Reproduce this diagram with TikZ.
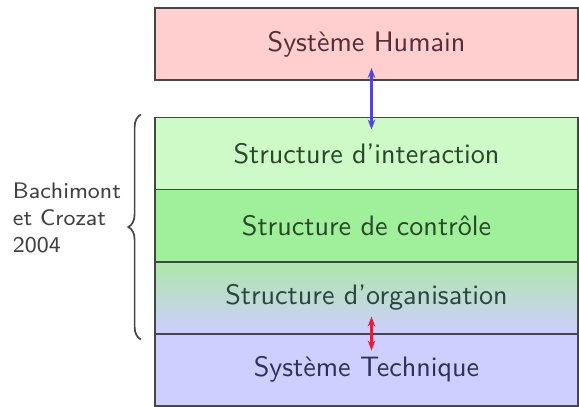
\documentclass[tikz,border=0pt]{standalone}
\usepackage{tikz}
\usetikzlibrary{calc,arrows.meta,positioning,decorations.pathreplacing}
\definecolor{humainRed}{RGB}{255,206,206}
\definecolor{interGreen}{RGB}{206,250,200}
\definecolor{controleGreen}{RGB}{160,240,155}
\definecolor{orgaGreen}{RGB}{172,232,168}
\definecolor{techBlue}{RGB}{206,206,255}
\definecolor{arrowBlue}{RGB}{80,70,215}
\definecolor{arrowRed}{RGB}{228,30,60}
\definecolor{framegray}{RGB}{70,70,70}
\definecolor{humainText}{RGB}{85,45,55}
\definecolor{greenText}{RGB}{40,72,40}
\definecolor{orgaText}{RGB}{40,70,62}
\definecolor{techText}{RGB}{48,48,85}

\begin{document}
\begin{tikzpicture}[x=0.0125cm, y=-0.0125cm, font=\sffamily,
    layer/.style={draw=framegray, line width=0.7pt, minimum width=5.2875cm,
        minimum height=0.9cm, inner sep=0pt, outer sep=0pt}]
    \useasboundingbox (0,0) rectangle (579,407);

    % human side
    \node[layer, fill=humainRed, text=humainText] (humain) at (366.5,44) {Système Humain};

    % the three structures
    \node[layer, fill=interGreen, text=greenText] (interaction) at (366.5,153.5) {Structure d'interaction};
    \node[layer, fill=controleGreen, text=greenText, below=0pt of interaction] (controle) {Structure de contrôle};
    \node[layer, top color=orgaGreen, bottom color=techBlue, text=orgaText, below=0pt of controle] (organisation) {Structure d'organisation};

    % technical side
    \node[layer, fill=techBlue, text=techText, below=0pt of organisation] (technique) {Système Technique};

    % links
    \draw[arrowBlue, line width=0.9pt, {Stealth[length=3.5pt]}-{Stealth[length=3.5pt]}]
        ($(humain.center)+(5,24)$) -- ($(interaction.center)+(5,-24)$);
    \draw[arrowRed, line width=0.9pt, {Stealth[length=3.5pt]}-{Stealth[length=3.5pt]}]
        ($(organisation.center)+(5,19)$) -- ($(technique.center)+(5,-19)$);

    % brace
    \coordinate (braceTop) at ($(interaction.north west)+(-14,-3)$);
    \coordinate (braceBot) at ($(organisation.south west)+(-14,6)$);
    \draw[framegray, line width=0.6pt, decorate, decoration={brace, amplitude=4.5pt}]
        (braceBot) -- (braceTop);
    \node[text=black!75, font=\sffamily\footnotesize, align=left, anchor=west] (ref) at (3,218) {Bachimont\\et Crozat\\2004};
\end{tikzpicture}
\end{document}
